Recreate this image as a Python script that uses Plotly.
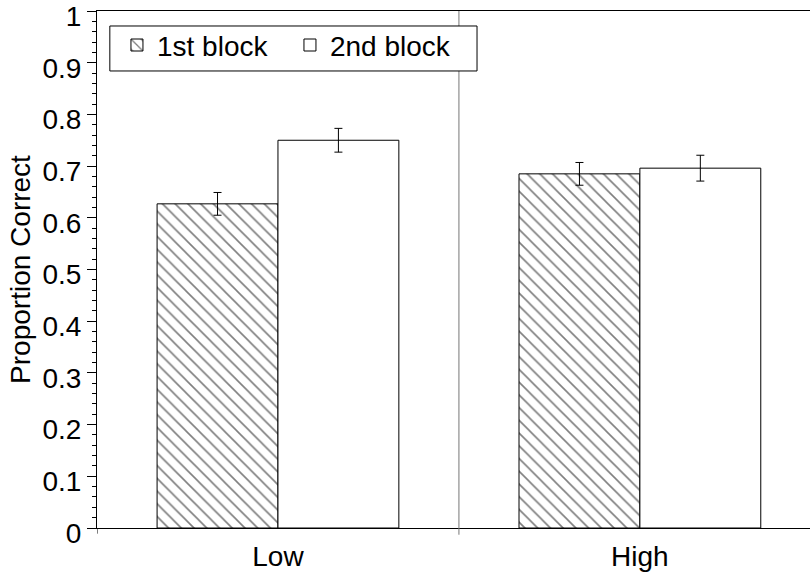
import plotly.graph_objects as go

# Recognition accuracy by difficulty level and study block
levels = ["Low", "High"]
level_pos = [0, 1]
block1 = [0.627, 0.685]
block1_err = [0.022, 0.022]
block2 = [0.750, 0.696]
block2_err = [0.023, 0.025]
y_ticks = [0, 0.1, 0.2, 0.3, 0.4, 0.5, 0.6, 0.7, 0.8, 0.9, 1]
y_tick_text = ["0", "0.1", "0.2", "0.3", "0.4", "0.5", "0.6", "0.7", "0.8", "0.9", "1"]

FONT = "Liberation Sans, Arial, sans-serif"
FS = 28

fig = go.Figure()
fig.add_trace(go.Bar(
    x=level_pos, y=block1, name="1st block",
    marker=dict(color="white", line=dict(color="black", width=1),
                pattern=dict(shape="\\", size=9, solidity=0.18,
                             fgcolor="black", bgcolor="white")),
    error_y=dict(type="data", array=block1_err, color="black",
                 thickness=1, width=4),
))
fig.add_trace(go.Bar(
    x=level_pos, y=block2, name="2nd block",
    marker=dict(color="white", line=dict(color="black", width=1)),
    error_y=dict(type="data", array=block2_err, color="black",
                 thickness=1, width=4),
))

# Separator between the two levels, and a boundary tick at the left edge
fig.add_shape(type="line", xref="x", yref="paper", x0=0.5, x1=0.5,
              y0=-0.013, y1=1, line=dict(color="#777777", width=1))
fig.add_shape(type="line", xref="x", yref="paper", x0=-0.5, x1=-0.5,
              y0=-0.011, y1=0, line=dict(color="black", width=1))
# Frame around the legend
fig.add_shape(type="rect", xref="paper", yref="paper",
              x0=0.018, x1=0.533, y0=0.884, y1=0.971,
              line=dict(color="black", width=1), fillcolor="white", layer="above")

fig.update_layout(
    width=810, height=575,
    margin=dict(l=97, r=0, t=11, b=47, autoexpand=False),
    paper_bgcolor="white", plot_bgcolor="white",
    barmode="group", bargap=0.332, bargroupgap=0,
    font=dict(family=FONT, size=FS, color="black"),
    showlegend=True,
    legend=dict(
        orientation="h", x=0.028, y=0.982, xanchor="left", yanchor="top",
        borderwidth=0, bgcolor="rgba(0,0,0,0)",
        font=dict(family=FONT, size=FS, color="black"),
        entrywidth=128, entrywidthmode="pixels",
    ),
    xaxis=dict(
        range=[-0.5, 1.47], tickvals=level_pos, ticktext=levels,
        ticks="", showline=True, linecolor="black", linewidth=1,
        mirror=True, showgrid=False, zeroline=False, automargin=False,
        ticklabelstandoff=3,
        tickfont=dict(size=FS),
    ),
    yaxis=dict(
        range=[0, 1], tickvals=y_ticks, ticktext=y_tick_text,
        ticklabeloverflow="allow", automargin=False,
        ticklabelshift=5,
        ticks="outside", ticklen=9, tickwidth=1, tickcolor="black",
        minor=dict(dtick=0.02, ticks="outside", ticklen=4,
                   tickcolor="black", showgrid=False),
        showline=True, linecolor="black", linewidth=1,
        showgrid=False, zeroline=False,
        title=dict(text="Proportion Correct", font=dict(size=FS), standoff=3),
        tickfont=dict(size=FS),
    ),
)

fig.write_html("out.html")
